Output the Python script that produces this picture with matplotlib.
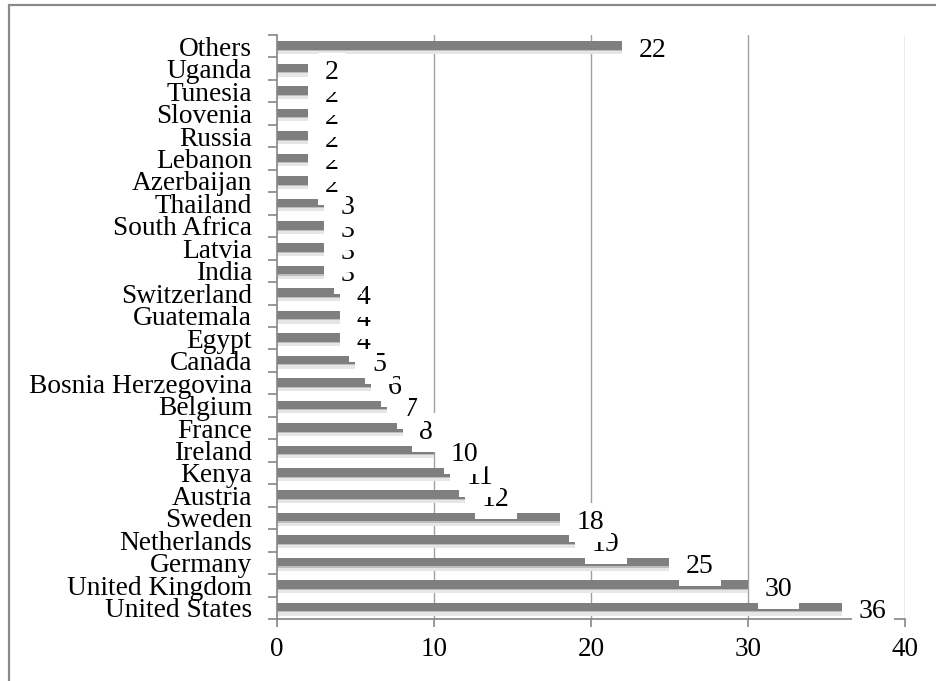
import numpy as np
import matplotlib.pyplot as plt
import matplotlib.patches as patches

countries = ['United States', 'United Kingdom', 'Germany', 'Netherlands', 'Sweden',
             'Austria', 'Kenya', 'Ireland', 'France', 'Belgium', 'Bosnia Herzegovina',
             'Canada', 'Egypt', 'Guatemala', 'Switzerland', 'India', 'Latvia',
             'South Africa', 'Thailand', 'Azerbaijan', 'Lebanon', 'Russia', 'Slovenia',
             'Tunesia', 'Uganda', 'Others']
counts = [36, 30, 25, 19, 18, 12, 11, 10, 8, 7, 6, 5, 4, 4, 4, 3, 3, 3, 3,
          2, 2, 2, 2, 2, 2, 22]
xticks = [0, 10, 20, 30, 40]

plt.rcParams['font.family'] = ['Liberation Serif', 'DejaVu Serif']

fig = plt.figure(figsize=(9.36, 6.81), dpi=100)
ax = fig.add_axes([0.2959, 0.0911, 0.671, 0.8575])

y = np.arange(len(countries))

# gridlines
for g in xticks[1:]:
    ax.axvline(g, color='#a0a0a0', lw=1.0, zorder=0)

# soft shadow under each bar, then the bar itself
ax.barh(y - 0.24, counts, height=0.22, color='#e6e6e6', zorder=1)
ax.barh(y - 0.13, counts, height=0.16, color='#bdbdbd', zorder=1)
ax.barh(y + 0.03, counts, height=0.38, color='#7f7f7f', zorder=2)

# value labels, drawn bottom to top so upper boxes sit over lower ones
for i, v in enumerate(counts):
    ax.annotate(str(v), (v, i), xytext=(12, -3), textcoords='offset points',
                ha='left', va='center', fontsize=20, zorder=3 + i * 0.01,
                bbox=dict(boxstyle='square,pad=0.25', fc='white', ec='none'))

ax.set_xlim(0, 40)
ax.set_ylim(-0.5, len(countries) - 0.5)
ax.set_xticks(xticks)
ax.set_yticks(y)
ax.set_yticklabels(countries)
ax.set_yticks(np.arange(-0.5, len(countries), 1), minor=True)

ax.tick_params(axis='y', which='major', length=0, pad=18, labelsize=19.7)
ax.tick_params(axis='y', which='minor', length=6.5, width=1.2, color='#868686')
ax.tick_params(axis='x', length=6, width=1.2, color='#868686', pad=7, labelsize=19.5)

for s in ['top', 'right']:
    ax.spines[s].set_visible(False)
for s in ['left', 'bottom']:
    ax.spines[s].set_color('#868686')
    ax.spines[s].set_linewidth(1.2)

# outer chart border (only top and left show in the frame)
fig.patches.append(patches.Rectangle((0.0096, -0.1), 1.2, 1.092, transform=fig.transFigure,
                                     fill=False, edgecolor='#8a8a8a', lw=1.6))

fig.savefig('out.png', dpi=100)
